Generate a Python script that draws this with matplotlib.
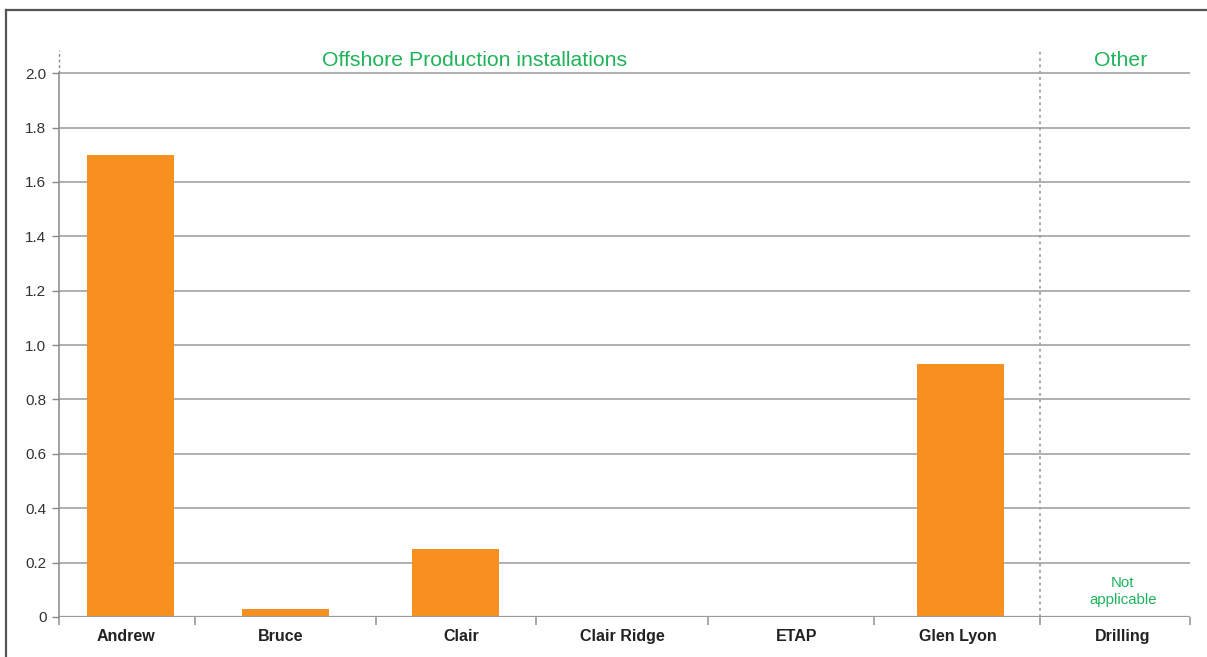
import matplotlib
matplotlib.use("Agg")
import matplotlib.pyplot as plt
from matplotlib.lines import Line2D
import numpy as np

# ---- data ----
categories = ["Andrew", "Bruce", "Clair", "Clair Ridge", "ETAP", "Glen Lyon", "Drilling"]
values = [1.70, 0.03, 0.25, 0.0, 0.0, 0.93, None]   # None = not applicable
yticks = [0, 0.2, 0.4, 0.6, 0.8, 1.0, 1.2, 1.4, 1.6, 1.8, 2.0]
ytick_labels = ["0", "0.2", "0.4", "0.6", "0.8", "1.0", "1.2", "1.4", "1.6", "1.8", "2.0"]
group_titles = ["Offshore Production installations", "Other"]
na_text = "Not\napplicable"

# ---- layout (category slot widths, relative units) ----
slot_widths = [136, 181, 160, 172, 166, 166, 150]
bar_width = 87
bar_offset = [3, 0, -1, 0, 0, 3, 0]
label_offset = [-1, -5, 5, 0, 6, 1, 8]

GREEN = "#1fb35a"
ORANGE = "#f7901e"
GRID = "#9a9a9a"
FONT = "Liberation Sans"

plt.rcParams["font.family"] = [FONT, "DejaVu Sans"]

W, H = 1207, 657
fig = plt.figure(figsize=(W / 100, H / 100), dpi=100)
ax_left, ax_right = 59, 1190
ax_bottom, ax_top = 617, 50
ax = fig.add_axes([ax_left / W, 1 - ax_bottom / H, (ax_right - ax_left) / W, (ax_bottom - ax_top) / H])

edges = np.concatenate([[0], np.cumsum(slot_widths)])
centers = (edges[:-1] + edges[1:]) / 2
ax.set_xlim(0, edges[-1])
ymax = 2.085
ax.set_ylim(0, ymax)

# gridlines
for y in yticks[1:]:
    ax.axhline(y, color=GRID, lw=1.1, zorder=1)

# bars
for i, v in enumerate(values):
    if v is not None and v > 0:
        ax.bar(centers[i] + bar_offset[i], v, width=bar_width, color=ORANGE, zorder=3)

# spines
for s in ["top", "right", "bottom", "left"]:
    ax.spines[s].set_visible(False)
# left axis: solid up to 2.0, dashed above
ax.plot([0, 0], [0, 2.0], color="#888888", lw=1.1, zorder=2, clip_on=False)
ax.plot([0, 0], [2.0, ymax], color="#888888", lw=1.0, ls=(0, (2, 2)), zorder=2, clip_on=False)
# bottom axis line
ax.axhline(0, color=GRID, lw=1.6, zorder=4)
# separator between groups
sep = edges[6]
ax.plot([sep, sep], [0, ymax], color="#a0a0a0", lw=1.3, ls=(0, (1.5, 2)), zorder=2, clip_on=False)

# y ticks
ax.set_yticks(yticks)
ax.set_yticklabels(ytick_labels)
ax.tick_params(axis="y", length=5, width=1, color="#888888", pad=4, labelsize=11, labelcolor="#333333")

# x ticks: tick marks at slot edges, labels at centers
ax.set_xticks(edges)
ax.set_xticklabels([""] * len(edges))
ax.tick_params(axis="x", length=6, width=1.2, color=GRID, direction="out")
for c, off, lab in zip(centers, label_offset, categories):
    ax.text(c + off, -0.045, lab, ha="center", va="top", fontsize=11.5, fontweight="bold",
            color="#222222", transform=ax.transData, clip_on=False)

# group titles
ax.text(edges[6] * 0.424, 2.045, group_titles[0], ha="center", va="center", fontsize=15.3, color=GREEN)
ax.text(centers[6] + 6, 2.045, group_titles[1], ha="center", va="center", fontsize=15.3, color=GREEN)

# not applicable
ax.text(centers[6] + 8, 0.093, na_text, ha="center", va="center", fontsize=10.8, color=GREEN,
        linespacing=1.3)

# outer frame (clipped at right/bottom)
fig.add_artist(Line2D([6 / W, 6 / W], [0, 1 - 10 / H], color="#555555", lw=1.6, transform=fig.transFigure))
fig.add_artist(Line2D([6 / W, 1], [1 - 10 / H, 1 - 10 / H], color="#555555", lw=1.6, transform=fig.transFigure))

fig.savefig("out.png", dpi=100)
